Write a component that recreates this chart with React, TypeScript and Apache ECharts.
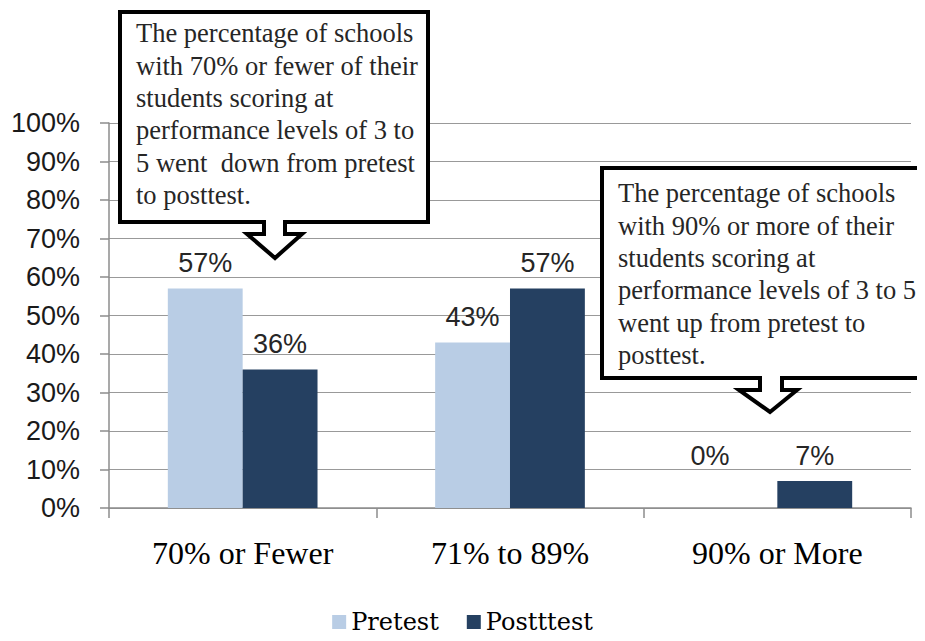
import React, { useEffect, useRef } from "react";
import * as echarts from "echarts";

const categories = ["70% or Fewer", "71% to 89%", "90% or More"];
const pretest = [57, 43, 0];
const posttest = [36, 57, 7];
const seriesNames = ["Pretest", "Postttest"];
const yTicks = { min: 0, max: 100, interval: 10 };
const callout1Lines = [
  "The percentage of schools",
  "with 70% or fewer of their",
  "students scoring at",
  "performance levels of 3 to",
  "5 went  down from pretest",
  "to posttest.",
];
const callout2Lines = [
  "The percentage of schools",
  "with 90% or more of their",
  "students scoring at",
  "performance levels of 3 to 5",
  "went up from pretest to",
  "posttest.",
];

export default function App() {
  const ref = useRef<HTMLDivElement>(null);
  useEffect(() => {
    if (!ref.current) return;
    const chart = echarts.init(ref.current, undefined, { renderer: "svg" });
    const labelStyle = {
      show: true,
      position: "top" as const,
      distance: 12,
      formatter: "{c}%",
      fontFamily: "Liberation Sans",
      fontSize: 27,
      color: "#262626",
    };
    const calloutStyle = {
      fill: "#ffffff",
      stroke: "#000000",
      lineWidth: 4,
      lineJoin: "miter",
    };
    const textStyle = {
      fontFamily: "Liberation Serif",
      fontSize: 26.5,
      lineHeight: 32.4,
      fill: "#262626",
      verticalAlign: "top",
    };
    chart.setOption({
      animation: false,
      backgroundColor: "#ffffff",
      grid: { left: 109, right: 14, top: 123, bottom: 133, containLabel: false },
      legend: {
        data: seriesNames,
        bottom: 2,
        left: "center",
        icon: "rect",
        itemWidth: 14,
        itemHeight: 14,
        itemGap: 28,
        textStyle: { fontFamily: "DejaVu Serif", fontSize: 24, color: "#000" },
      },
      xAxis: {
        type: "category",
        data: categories,
        axisLine: { lineStyle: { color: "#8c8c8c", width: 1.5 } },
        axisTick: { show: true, length: 10, lineStyle: { color: "#8c8c8c", width: 1.5 } },
        axisLabel: { margin: 29, fontFamily: "Liberation Serif", fontSize: 32, color: "#000" },
      },
      yAxis: {
        type: "value",
        min: yTicks.min,
        max: yTicks.max,
        interval: yTicks.interval,
        axisLine: { show: true, lineStyle: { color: "#8c8c8c", width: 1.5 } },
        axisTick: { show: true, length: 9, lineStyle: { color: "#8c8c8c", width: 1.5 } },
        splitLine: { lineStyle: { color: "#999999", width: 1.2 } },
        axisLabel: {
          formatter: "{value}%",
          margin: 29,
          fontFamily: "Liberation Sans",
          fontSize: 27,
          color: "#1a1a1a",
        },
      },
      series: [
        {
          name: seriesNames[0],
          type: "bar",
          data: pretest.map((v) =>
            v === 0 ? { value: v, label: { offset: [-30, -27] } } : { value: v }
          ),
          itemStyle: { color: "#b9cde5" },
          barGap: "0%",
          barCategoryGap: "44%",
          label: labelStyle,
        },
        {
          name: seriesNames[1],
          type: "bar",
          data: posttest,
          itemStyle: { color: "#254061" },
          label: labelStyle,
        },
      ],
      graphic: [
        {
          type: "polygon",
          z: 100,
          shape: {
            points: [
              [120, 12], [428, 12], [428, 222], [285, 222], [285, 234],
              [302, 234], [275, 258], [247, 234], [264, 234], [264, 222],
              [120, 222],
            ],
          },
          style: calloutStyle,
        },
        {
          type: "text",
          z: 101,
          x: 136,
          y: 17,
          style: { ...textStyle, text: callout1Lines.join("\n") },
        },
        {
          type: "polygon",
          z: 100,
          shape: {
            points: [
              [602, 168], [921, 168], [921, 378], [782, 378], [782, 390],
              [797, 390], [770, 412], [739, 390], [760, 390], [760, 378],
              [602, 378],
            ],
          },
          style: calloutStyle,
        },
        {
          type: "text",
          z: 101,
          x: 618,
          y: 177,
          style: { ...textStyle, text: callout2Lines.join("\n") },
        },
      ],
    });
    return () => chart.dispose();
  }, []);
  return <div ref={ref} style={{ width: 925, height: 641, margin: -8 }} />;
}
